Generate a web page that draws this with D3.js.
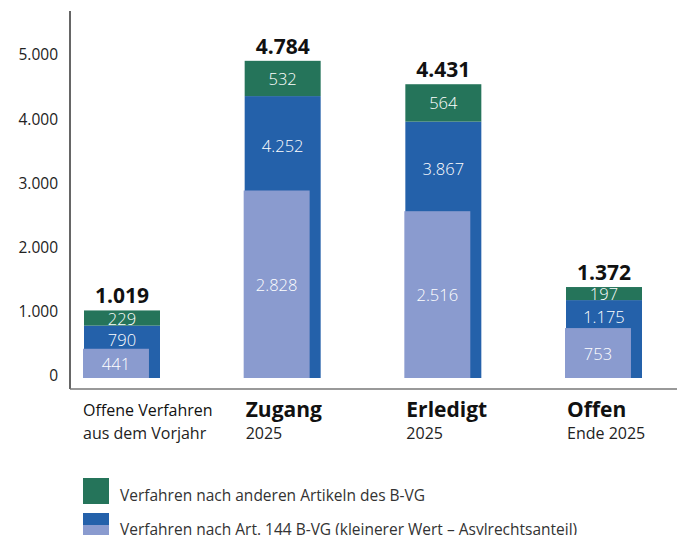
<!DOCTYPE html>
<html>
<head>
<meta charset="utf-8">
<script src="https://cdn.jsdelivr.net/npm/d3@7/dist/d3.min.js"></script>
<style>
  body { margin: 0; background: #fff; }
  svg { display: block; font-family: "Open Sans", sans-serif; }
</style>
</head>
<body>
<div id="chart"></div>
<script>
(function() {

    // data
    var categories = ["Offene Verfahren aus dem Vorjahr", "Zugang", "Erledigt", "Offen"];
    var catTitle   = [["Offene Verfahren", "aus dem Vorjahr"], ["Zugang", "2025"], ["Erledigt", "2025"], ["Offen", "Ende 2025"]];
    var catBold    = [false, true, true, true];
    var art144     = [790, 4252, 3867, 1175];   // Verfahren nach Art. 144 B-VG
    var asyl       = [441, 2828, 2516, 753];    // davon Asylrechtsanteil
    var andere     = [229, 532, 564, 197];      // andere Artikel des B-VG
    var totals     = [1019, 4784, 4431, 1372];
    var yTicks     = [0, 1000, 2000, 3000, 4000, 5000];
    var legendItems = ["Verfahren nach anderen Artikeln des B-VG",
                       "Verfahren nach Art. 144 B-VG (kleinerer Wert \u2013 Asylrechtsanteil)"];

    var cGreen = "#25745a", cBlue = "#2461aa", cLight = "#8a9bcf";

    var width = 677, height = 535;
    var fmt = d3.format(",d");
    var de = function(v) { return fmt(v).replace(/,/g, "."); };

    var svg = d3.select("#chart").append("svg")
        .attr("width", width)
        .attr("height", height);

    var x = d3.scaleBand()
        .domain(categories)
        .range([84, 642])
        .paddingInner(0.527)
        .paddingOuter(0);

    var y = d3.scaleLinear()
        .domain([0, 5000])
        .range([378, 46.5]);

    // tick labels in the original sit on a slightly tighter grid
    var yLabel = d3.scaleLinear()
        .domain([0, 5000])
        .range([376, 55]);

    var data = categories.map(function(c, i) {
        return {cat: c, i: i, art144: art144[i], asyl: asyl[i], andere: andere[i], total: totals[i]};
    });

    var bw = x.bandwidth(),
        lw = bw * 0.868;

    // axes
    svg.append("line")
        .attr("x1", 70).attr("x2", 70)
        .attr("y1", 11).attr("y2", 389)
        .attr("stroke", "#333").attr("stroke-width", 1.5);
    svg.append("line")
        .attr("x1", 70).attr("x2", width)
        .attr("y1", 389).attr("y2", 389)
        .attr("stroke", "#777").attr("stroke-width", 1.5);

    var yAxis = svg.append("g")
        .attr("transform", "translate(58,0)")
        .call(d3.axisLeft(yLabel).tickValues(yTicks).tickSize(0).tickPadding(0).tickFormat(de));
    yAxis.select(".domain").remove();
    yAxis.selectAll("text")
        .attr("font-family", "Open Sans, sans-serif")
        .attr("font-size", 15.5)
        .attr("fill", "#222");

    var defs = svg.append("defs");

    var bars = svg.selectAll(".bar")
        .data(data)
        .enter().append("g")
        .attr("class", "bar");

    bars.append("rect")
        .attr("x", function(d) { return x(d.cat); })
        .attr("y", function(d) { return y(d.art144); })
        .attr("width", bw)
        .attr("height", function(d) { return y(0) - y(d.art144); })
        .attr("fill", cBlue);

    bars.append("rect")
        .attr("x", function(d) { return x(d.cat) - 1; })
        .attr("y", function(d) { return y(d.asyl); })
        .attr("width", lw)
        .attr("height", function(d) { return y(0) - y(d.asyl); })
        .attr("fill", cLight);

    bars.append("rect")
        .attr("x", function(d) { return x(d.cat); })
        .attr("y", function(d) { return y(d.total); })
        .attr("width", bw)
        .attr("height", function(d) { return y(d.art144) - y(d.total); })
        .attr("fill", cGreen);

    // the small green labels are clipped by their segment, as in the original
    defs.selectAll("clipPath")
        .data(data)
        .enter().append("clipPath")
        .attr("id", function(d) { return "clip-g" + d.i; })
        .append("rect")
        .attr("x", function(d) { return x(d.cat); })
        .attr("y", function(d) { return y(d.total); })
        .attr("width", bw)
        .attr("height", function(d) { return y(d.art144) - y(d.total); });

    // value labels
    var valText = function(sel) {
        return sel.attr("text-anchor", "middle")
            .attr("dominant-baseline", "central")
            .attr("fill", "#fff")
            .attr("font-weight", 300)
            .attr("font-size", 16.5);
    };

    bars.append("text").call(valText)
        .attr("clip-path", function(d) { return "url(#clip-g" + d.i + ")"; })
        .attr("x", function(d) { return x(d.cat) + bw / 2; })
        .attr("y", function(d) { return (y(d.total) + y(d.art144)) / 2; })
        .text(function(d) { return de(d.andere); });

    bars.append("text").call(valText)
        .attr("x", function(d) { return x(d.cat) + bw / 2; })
        .attr("y", function(d) { return (y(d.art144) + y(d.asyl)) / 2 + 2; })
        .text(function(d) { return de(d.art144); });

    bars.append("text").call(valText)
        .attr("x", function(d) { return x(d.cat) - 1 + lw / 2; })
        .attr("y", function(d) { return (y(d.asyl) + y(0)) / 2; })
        .text(function(d) { return de(d.asyl); });

    bars.append("text")
        .attr("x", function(d) { return x(d.cat) + bw / 2; })
        .attr("y", function(d) { return y(d.total) - 7; })
        .attr("text-anchor", "middle")
        .attr("font-weight", "bold")
        .attr("font-size", 21)
        .attr("fill", "#111")
        .text(function(d) { return de(d.total); });

    // category labels
    var cat = svg.selectAll(".cat")
        .data(data)
        .enter().append("g")
        .attr("class", "cat")
        .attr("transform", function(d) { return "translate(" + (x(d.cat) + (catBold[d.i] ? 1 : -1)) + ",0)"; });

    cat.append("text")
        .attr("y", function(d) { return catBold[d.i] ? 417 : 416; })
        .attr("font-size", function(d) { return catBold[d.i] ? 21 : 16; })
        .attr("font-weight", function(d) { return catBold[d.i] ? "bold" : "normal"; })
        .attr("fill", "#111")
        .text(function(d) { return catTitle[d.i][0]; });

    cat.append("text")
        .attr("y", 439)
        .attr("font-size", 16)
        .attr("fill", "#222")
        .text(function(d) { return catTitle[d.i][1]; });

    // legend
    var legend = svg.append("g").attr("transform", "translate(83,478)");

    legend.append("rect")
        .attr("width", 26).attr("height", 26)
        .attr("fill", cGreen);
    legend.append("rect")
        .attr("y", 35).attr("width", 26).attr("height", 12)
        .attr("fill", cBlue);
    legend.append("rect")
        .attr("y", 47).attr("width", 26).attr("height", 14)
        .attr("fill", cLight);

    legend.selectAll(".lt")
        .data(legendItems)
        .enter().append("text")
        .attr("class", "lt")
        .attr("x", 37)
        .attr("y", function(d, i) { return 17 + i * 34 + 5.5; })
        .attr("font-size", 15.5)
        .attr("fill", "#333")
        .text(function(d) { return d; });

})();
</script>
</body>
</html>
